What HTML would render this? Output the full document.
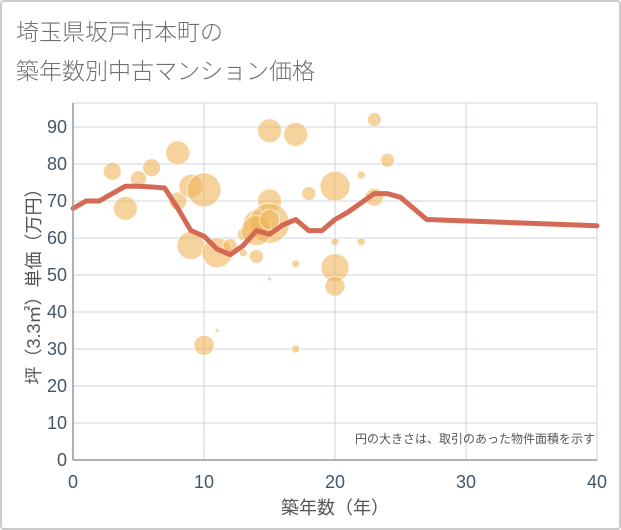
<!DOCTYPE html>
<html><head><meta charset="utf-8"><style>
body{margin:0;background:#fff;}
svg{display:block;font-family:"Liberation Sans","Noto Sans CJK JP",sans-serif;}
</style></head><body>
<svg width="621" height="530">
<rect x="1" y="1" width="619" height="528" fill="#fff" stroke="#ccc" stroke-width="2" rx="3"/>
<text x="16" y="40" font-size="23" fill="#707070" font-weight="300">埼玉県坂戸市本町の</text>
<text x="16" y="79" font-size="23" fill="#707070" font-weight="300">築年数別中古マンション価格</text>
<g id="grid"></g>
<g id="bubbles"></g>
<g id="line"></g>
<g id="axes"></g>
<text x="595" y="443" font-size="12" fill="#555" text-anchor="end">円の大きさは、取引のあった物件面積を示す</text>
<text x="335" y="514" font-size="18" fill="#555" text-anchor="middle">築年数（年）</text>
<text transform="translate(40,282) rotate(-90)" font-size="18" fill="#555" text-anchor="middle">坪（3.3㎡）単価（万円）</text>
</svg>
<script>
const xTicks=[0,10,20,30,40];
const yTicks=[0,10,20,30,40,50,60,70,80,90];
const bubbleX=[3,5,6,4,8,8,9,10,9,11,12,10,11,13,13,14,14,15,15,14,15,15,17,17,15,17,18,20,20,20,20,22,22,23,24,23];
const bubbleY=[78,76,79,68,83,70,74,73,58,56,58,31,35,56,61,55,64,70,64,62,65,89,88,53,49,30,72,74,52,47,59,59,77,92,81,71];
const bubbleR=[9,8,9,12,12,9,12,17,14,15,7,10,2,4,6,7,13,12,20,15,10,12,12,4,2,4,7,15,14,10,4,4,4,7,7,9];
const lineX=[0,1,2,3,4,5,6,7,8,9,10,11,12,13,14,15,16,17,18,19,20,21,22,23,24,25,26,27,40];
const lineY=[68,70,70,72,74,74,73.8,73.5,68,62,60.5,57,55.5,58,62,61,63.5,65,62,62,65,67,69.5,72,72,71,68,65,63.3];
const X0=73,X1=597,Y0=460,Y1=127;
const sx=v=>X0+(X1-X0)*v/40, sy=v=>Y0-(Y0-Y1)*v/90;
const NS='http://www.w3.org/2000/svg';
function mk(t,a,p){const e=document.createElementNS(NS,t);for(const k in a)e.setAttribute(k,a[k]);p.appendChild(e);return e;}
const grid=document.getElementById('grid'),axes=document.getElementById('axes');
mk('rect',{x:X0,y:103,width:X1-X0,height:Y0-103,fill:'none',stroke:'#c9d5e2'},grid);
xTicks.forEach(t=>{const l=mk('line',{x1:sx(t),x2:sx(t),y1:103,y2:Y0,stroke:'#c9d5e2'},grid);

const tx=mk('text',{x:sx(t),y:488,'font-size':18,fill:'#445566','text-anchor':'middle'},axes);tx.textContent=t;
});
yTicks.forEach(t=>{const l=mk('line',{x1:X0,x2:X1,y1:sy(t),y2:sy(t),stroke:'#c9d5e2'},grid);

const tx=mk('text',{x:67,y:sy(t)+6,'font-size':18,fill:'#445566','text-anchor':'end'},axes);tx.textContent=t;
});
mk('line',{x1:X0,x2:X0,y1:103,y2:Y0,stroke:'#999','stroke-width':1.5},axes);
mk('line',{x1:X0,x2:X1,y1:Y0,y2:Y0,stroke:'#999','stroke-width':1.5},axes);
const bg=document.getElementById('bubbles');
bubbleX.forEach((v,i)=>{const c=mk('circle',{cx:sx(v),cy:sy(bubbleY[i]),r:bubbleR[i],fill:'rgba(240,180,90,0.6)',stroke:'rgba(255,255,255,0.7)','stroke-width':1},bg);
});
const p=mk('polyline',{points:lineX.map((v,i)=>sx(v)+','+sy(lineY[i])).join(' '),fill:'none',stroke:'#d46a55','stroke-width':5,'stroke-linejoin':'round','stroke-linecap':'round'},document.getElementById('line'));


</script>
</body></html>
